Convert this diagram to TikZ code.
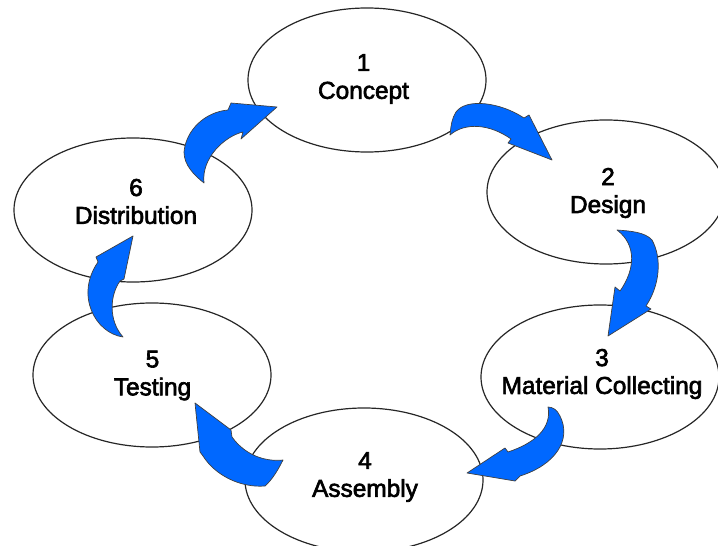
\documentclass[tikz,border=0pt]{standalone}
\usepackage{fontspec}
\setmainfont{Liberation Sans}
\newfontfamily\capfont{Liberation Sans}[FakeBold=2.6]
\usetikzlibrary{shapes.geometric}
\definecolor{flowblue}{RGB}{0,104,255}
\begin{document}
\begin{tikzpicture}[x=1bp,y=-1bp,
  stage/.style={ellipse, draw=black!85, line width=1.2bp,
    minimum width=238bp, minimum height=144bp, inner sep=0pt},
  caption/.style={align=center, inner sep=0pt,
    font=\capfont\fontsize{24.5}{28}\selectfont},
  flow/.style={fill=flowblue, draw=black!75, line width=0.7bp, line join=round}]
\useasboundingbox (0,0) rectangle (718,546);
\clip (0,0) rectangle (718,546);

% the six stages of the cycle
\node[stage] (n1) at (367,80)  {};
\node[stage] (n2) at (606,192) {};
\node[stage] (n3) at (600,377) {};
\node[stage] (n4) at (364,480) {};
\node[stage] (n5) at (152,375) {};
\node[stage] (n6) at (133,210) {};

% curved block arrows between consecutive stages
% 1 -> 2
\draw[flow] (450,135) .. controls (451,125) and (452,118) .. (456,112)
  .. controls (466,98) and (500,102) .. (524,118)
  -- (529,115) -- (552,160) -- (508,143) -- (511,139)
  .. controls (490,124) and (465,122) .. (450,135) -- cycle;
% 2 -> 3
\draw[flow] (617,230) .. controls (630,231) and (645,232) .. (652,240)
  .. controls (662,258) and (660,285) .. (646,306)
  -- (651,309) -- (608,336) -- (615,287) -- (620,291)
  .. controls (635,270) and (637,245) .. (617,230) -- cycle;
% 3 -> 4
\draw[flow] (548,407) .. controls (553,407) and (557,410) .. (560,416)
  .. controls (572,440) and (555,465) .. (520,476)
  -- (515,481) -- (467,473) -- (505,448) -- (508,452)
  .. controls (535,443) and (552,428) .. (548,407) -- cycle;
% 4 -> 5
\draw[flow] (283,460) .. controls (278,470) and (272,480) .. (265,486)
  .. controls (240,488) and (215,475) .. (203,456)
  -- (200,452) -- (195,403) -- (231,430) -- (232,437)
  .. controls (245,455) and (265,462) .. (283,460) -- cycle;
% 5 -> 6
\draw[flow] (123,337) .. controls (95,333) and (75,295) .. (98,262)
  -- (96,257) -- (133,236) -- (124,279) -- (120,281)
  .. controls (110,295) and (108,320) .. (123,337) -- cycle;
% 6 -> 1
\draw[flow] (184,152) .. controls (186,130) and (205,112) .. (228,110)
  -- (231,103) -- (277,107) -- (241,139) -- (243,132)
  .. controls (225,136) and (201,158) .. (204,183)
  .. controls (194,175) and (184,165) .. (184,152) -- cycle;

% stage labels
\node[caption] (c1) at ([xshift=-3.5bp,yshift=1bp]n1.center) {1\\Concept};
\node[caption] (c2) at ([xshift=2bp,yshift=-1bp]n2.center) {2\\Design};
\node[caption] (c3) at ([xshift=2bp,yshift=3bp]n3.center) {3\\Material Collecting};
\node[caption] (c4) at ([xshift=1bp,yshift=3bp]n4.center) {4\\Assembly};
\node[caption] (c5) at ([xshift=0.5bp,yshift=-0.5bp]n5.center) {5\\Testing};
\node[caption] (c6) at ([xshift=3bp,yshift=8.5bp]n6.center) {6\\Distribution};
\end{tikzpicture}
\end{document}
